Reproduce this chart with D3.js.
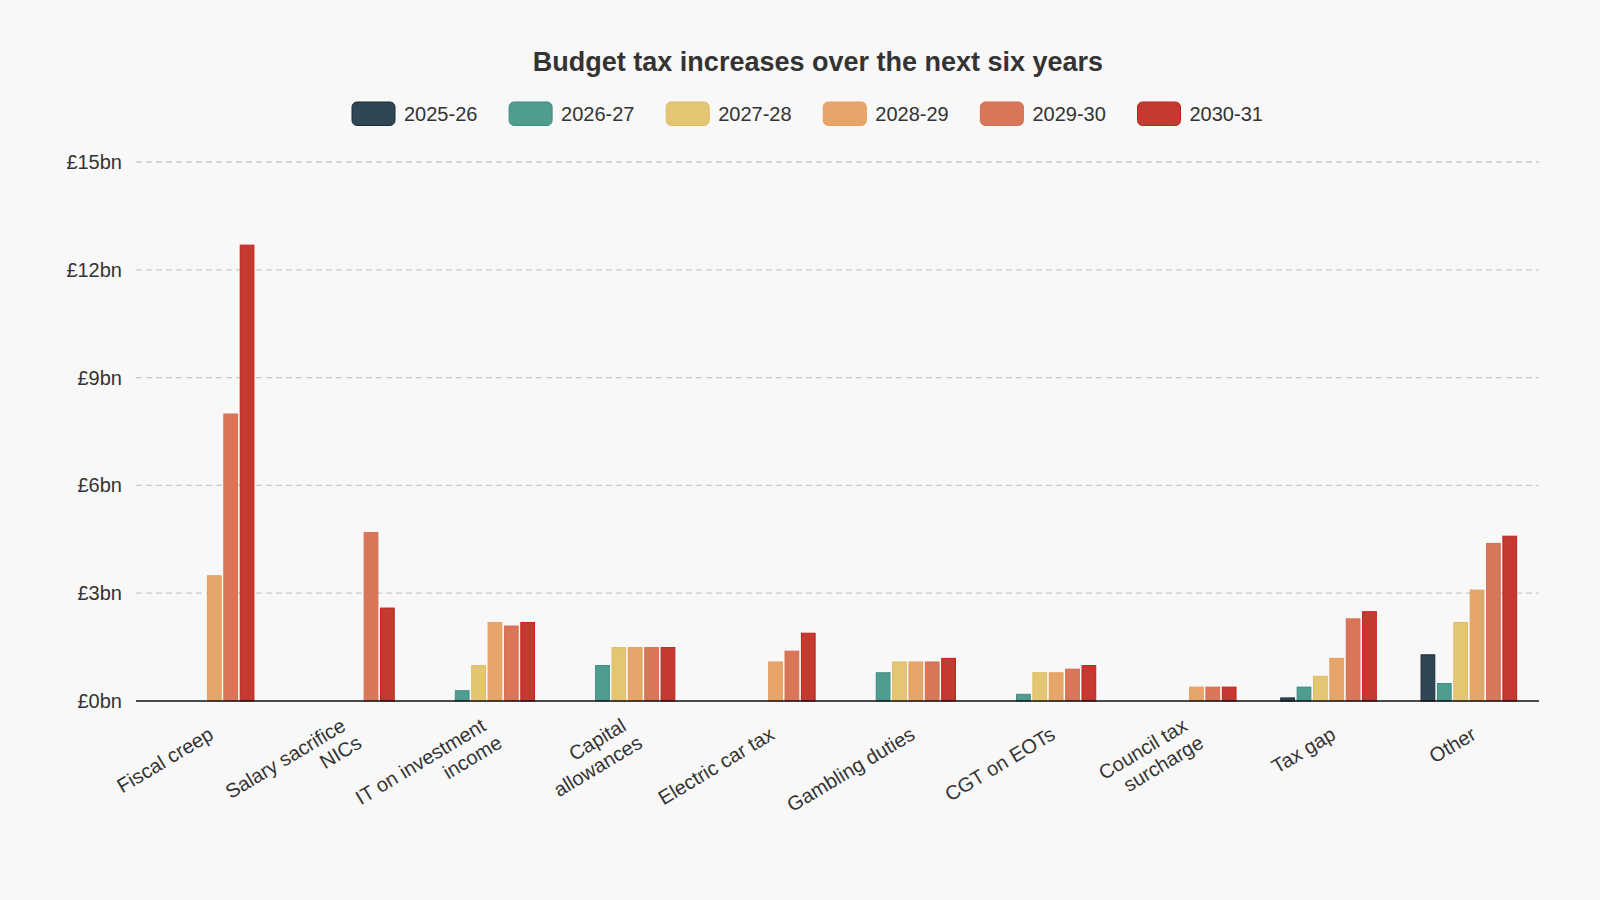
<!DOCTYPE html>
<html>
<head>
<meta charset="utf-8">
<script src="https://cdn.jsdelivr.net/npm/d3@7/dist/d3.min.js"></script>
<style>
  html, body { margin: 0; padding: 0; background: #f8f8f8; }
  svg { display: block; font-family: "Liberation Sans", Arial, Helvetica, sans-serif; }
</style>
</head>
<body>
<svg id="chart" width="1600" height="900"></svg>
<script>
const categories = [
  ["Fiscal creep"],
  ["Salary sacrifice", "NICs"],
  ["IT on investment", "income"],
  ["Capital", "allowances"],
  ["Electric car tax"],
  ["Gambling duties"],
  ["CGT on EOTs"],
  ["Council tax", "surcharge"],
  ["Tax gap"],
  ["Other"]
];
const seriesNames = ["2025-26", "2026-27", "2027-28", "2028-29", "2029-30", "2030-31"];
const v2025 = [0, 0, 0, 0, 0, 0, 0, 0, 0.1, 1.3];
const v2026 = [0, 0, 0.3, 1.0, 0, 0.8, 0.2, 0, 0.4, 0.5];
const v2027 = [0, 0, 1.0, 1.5, 0, 1.1, 0.8, 0, 0.7, 2.2];
const v2028 = [3.5, 0, 2.2, 1.5, 1.1, 1.1, 0.8, 0.4, 1.2, 3.1];
const v2029 = [8.0, 4.7, 2.1, 1.5, 1.4, 1.1, 0.9, 0.4, 2.3, 4.4];
const v2030 = [12.7, 2.6, 2.2, 1.5, 1.9, 1.2, 1.0, 0.4, 2.5, 4.6];
const yTicks = [0, 3, 6, 9, 12, 15];
const fills = ["#2e4753", "#4f9d90", "#e3c574", "#e8a56a", "#d97659", "#c53a30"];
const strokes = ["#1b2c3a", "#3e8c80", "#ddbd62", "#e59e5c", "#d66d4f", "#c41f1c"];
const seriesValues = [v2025, v2026, v2027, v2028, v2029, v2030];

const svg = d3.select("#chart");
const W = 1600, H = 900;
svg.append("rect").attr("width", W).attr("height", H).attr("fill", "#f8f8f8");

const plot = { left: 136, right: 1539, top: 162, bottom: 701 };

// Title
svg.append("text")
  .attr("x", 818).attr("y", 71)
  .attr("text-anchor", "middle")
  .attr("font-size", 27).attr("font-weight", "bold")
  .attr("fill", "#333")
  .text("Budget tax increases over the next six years");

// Legend
const legend = svg.append("g");
seriesNames.forEach((name, i) => {
  const gx = 352 + i * 157.1;
  legend.append("rect")
    .attr("x", gx).attr("y", 102).attr("width", 43).attr("height", 23.5)
    .attr("rx", 5).attr("ry", 5)
    .attr("fill", fills[i]).attr("stroke", strokes[i]).attr("stroke-width", 1);
  legend.append("text")
    .attr("x", gx + 52).attr("y", 120.5)
    .attr("font-size", 20).attr("fill", "#333")
    .text(name);
});

const x = d3.scaleBand().domain(d3.range(categories.length)).range([plot.left, plot.right]).padding(0);
const y = d3.scaleLinear().domain([0, 15]).range([plot.bottom, plot.top]);
const bw = x.bandwidth();
const inner = d3.scaleBand().domain(d3.range(seriesNames.length))
  .range([-0.35 * bw, 0.35 * bw]).paddingInner(0.1).paddingOuter(0.05);

// Grid lines
const grid = svg.append("g");
yTicks.filter(t => t > 0).forEach(t => {
  grid.append("line")
    .attr("x1", plot.left).attr("x2", plot.right)
    .attr("y1", y(t)).attr("y2", y(t))
    .attr("stroke", "#cacaca").attr("stroke-width", 1.3)
    .attr("stroke-dasharray", "6,4");
});

// Y axis labels
const yAxis = d3.axisLeft(y).tickValues(yTicks).tickSize(0).tickPadding(0)
  .tickFormat(d => "£" + d + "bn");
const yg = svg.append("g").attr("transform", `translate(${plot.left - 14},0)`).call(yAxis);
yg.select(".domain").remove();
yg.selectAll("text").attr("font-size", 20).attr("fill", "#333")
  .attr("font-family", "'Liberation Sans', Arial, Helvetica, sans-serif");

// Bars
const bars = svg.append("g");
seriesValues.forEach((vals, s) => {
  vals.forEach((v, c) => {
    if (v <= 0) return;
    const cx = x(c) + bw / 2;
    const bx = cx + inner(s);
    bars.append("rect")
      .attr("x", bx + 0.5).attr("y", y(v) + 0.5)
      .attr("width", inner.bandwidth() - 1)
      .attr("height", Math.max(0, y(0) - y(v) - 0.5))
      .attr("fill", fills[s]).attr("stroke", strokes[s]).attr("stroke-width", 1);
  });
});

// X axis line
svg.append("line")
  .attr("x1", plot.left).attr("x2", plot.right)
  .attr("y1", plot.bottom).attr("y2", plot.bottom)
  .attr("stroke", "#111").attr("stroke-width", 1.5);

// X labels
const lh = 23;
const xl = svg.append("g");
categories.forEach((lines, c) => {
  const cx = x(c) + bw / 2;
  const g = xl.append("g").attr("transform", `translate(${cx + 5},${plot.bottom + 31}) rotate(-31)`);
  lines.forEach((ln, i) => {
    const k = i - (lines.length - 1) / 2;
    g.append("text")
      .attr("x", k * 5).attr("y", k * lh)
      .attr("dy", "0.35em")
      .attr("text-anchor", "end")
      .attr("font-size", 20).attr("fill", "#333")
      .text(ln);
  });
});
</script>
</body>
</html>
